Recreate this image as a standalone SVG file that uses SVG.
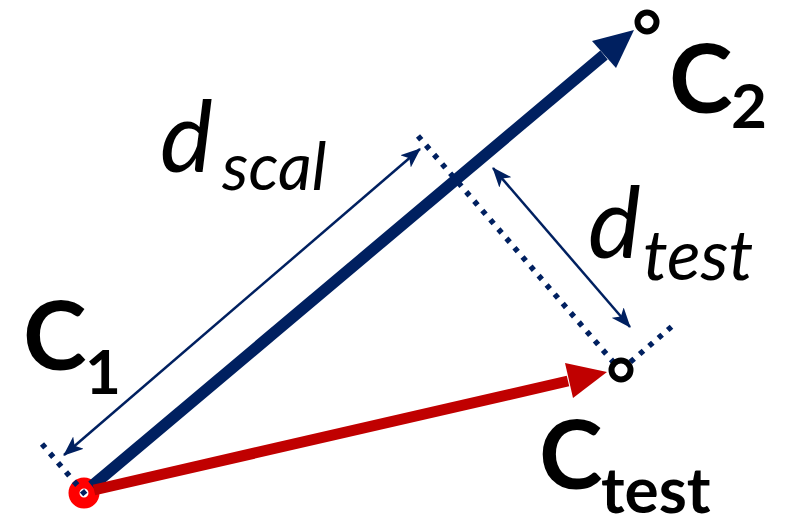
<svg xmlns="http://www.w3.org/2000/svg" width="788" height="528" viewBox="0 0 788 528">
<defs>
<style>
.dot{fill:none;stroke:#002060;stroke-width:5.5;stroke-dasharray:5 7.3}
.thin{fill:none;stroke:#002060;stroke-width:2.5;marker-start:url(#ah);marker-end:url(#ah)}
.lbl{font-family:Lato,"Open Sans",sans-serif;fill:#000}
.b{font-weight:bold}
.i{font-style:italic}
.pt{fill:#fff;stroke:#000;stroke-width:6}
</style>
<marker id="ah" viewBox="0 0 20 16" refX="19" refY="8" markerWidth="20" markerHeight="16" markerUnits="userSpaceOnUse" orient="auto-start-reverse">
<path d="M0,0 L20,8 L0,16 L5,8 Z" fill="#002060"/>
</marker>
</defs>
<g id="C1">
<circle cx="84" cy="493" r="10" fill="#fff" stroke="#FF0000" stroke-width="11"/>
<text class="lbl b" x="23" y="370" font-size="96">C<tspan x="85" y="394" font-size="62">1</tspan></text>
</g>
<g id="connectors">
<line class="dot" x1="42" y1="444" x2="90" y2="500"/>
<line class="dot" x1="418" y1="136" x2="621" y2="371"/>
<line class="dot" x1="621" y1="370" x2="677" y2="322"/>
<line class="thin" x1="64" y1="455" x2="420" y2="149"/>
<line class="thin" x1="493" y1="168" x2="630" y2="327"/>
<line x1="92" y1="486" x2="604" y2="55" stroke="#002060" stroke-width="11.5"/>
<polygon points="634,30 616,68 592,41" fill="#002060"/>
<line x1="94" y1="490" x2="568" y2="381" stroke="#C00000" stroke-width="11"/>
<polygon points="607,372 573,398 565,363" fill="#C00000"/>
</g>
<g id="C2">
<circle class="pt" cx="647" cy="22" r="9.5"/>
<text class="lbl b" x="669" y="113" font-size="96">C<tspan x="731" y="128" font-size="62">2</tspan></text>
</g>
<g id="Ctest">
<circle class="pt" cx="621" cy="370" r="9.5"/>
<text class="lbl b" x="539" y="489" font-size="96">C<tspan x="601" y="513" font-size="64">test</tspan></text>
</g>
<g id="dscal">
<text class="lbl i" x="160" y="172" font-size="100">d<tspan x="222" y="190" font-size="66">scal</tspan></text>
</g>
<g id="dtest">
<text class="lbl i" x="588" y="258" font-size="100">d<tspan x="643" y="280" font-size="70">test</tspan></text>
</g>
</svg>
